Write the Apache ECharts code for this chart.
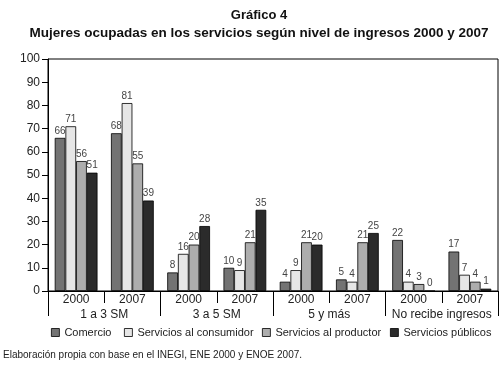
<!DOCTYPE html>
<html><head><meta charset="utf-8">
<script src="https://cdn.jsdelivr.net/npm/echarts@6/dist/echarts.min.js"></script>
<style>html,body{margin:0;padding:0;background:#fff}#c{width:504px;height:366px}</style>
</head><body><div id="c"></div>
<script>
const years = ['2000','2007','2000','2007','2000','2007','2000','2007'];
const groups = ['1 a 3 SM','3 a 5 SM','5 y más','No recibe ingresos'];
const seriesNames = ['Comercio','Servicios al consumidor','Servicios al productor','Servicios públicos'];
const comercio = [66,68,8,10,4,5,22,17];
const consumidor = [71,81,16,9,9,4,4,7];
const productor = [56,55,20,21,21,21,3,4];
const publicos = [51,39,28,35,20,25,0,1];
const yTicks = [0,10,20,30,40,50,60,70,80,90,100];
const colors = ['#737373','#e6e6e6','#adadad','#2b2b2b'];
const FONT = "'Liberation Sans Narrow','Liberation Sans',Arial,sans-serif";
const chart = echarts.init(document.getElementById('c'));
const vals = [comercio, consumidor, productor, publicos];
const legendX = [51, 124, 262, 390];
chart.setOption({
  animation:false,
  title:[
    {text:'Gráfico 4', left:254, textAlign:'center', top:4, textStyle:{fontFamily:'Liberation Sans, Arial, sans-serif', fontWeight:'bold', fontSize:13, color:'#111'}},
    {text:'Mujeres ocupadas en los servicios según nivel de ingresos 2000 y 2007', left:254, textAlign:'center', top:21, textStyle:{fontFamily:'Liberation Sans, Arial, sans-serif', fontWeight:'bold', fontSize:13.5, color:'#111'}},
    {text:'Elaboración propia con base en el INEGI, ENE 2000 y ENOE 2007.', left:3, top:350, padding:0, textStyle:{fontFamily:FONT, fontWeight:'normal', fontSize:10, color:'#222'}}
  ],
  legend: seriesNames.map((n,i)=>({
    data:[n], left:legendX[i], top:327, padding:0, itemWidth:8, itemHeight:8, icon:'rect',
    textStyle:{fontFamily:FONT, fontSize:11, color:'#222', padding:[0,0,0,0]},
    itemStyle:{borderColor:'#000', borderWidth:0.8}
  })),
  grid:{left:48, right:6, top:59, bottom:75, show:true, borderColor:'#000', borderWidth:1},
  xAxis:[
    {type:'category', data:years, position:'bottom',
     axisLine:{lineStyle:{color:'#000'}}, axisTick:{show:true, length:12, interval:0, lineStyle:{color:'#000'}},
     axisLabel:{fontFamily:FONT, fontSize:12, color:'#222', margin:3, interval:0}},
    {type:'category', data:groups, position:'bottom', offset:0,
     axisLine:{show:false}, axisTick:{show:true, length:25, interval:0, lineStyle:{color:'#000'}},
     axisLabel:{fontFamily:FONT, fontSize:12, color:'#222', margin:18, interval:0}}
  ],
  yAxis:{type:'value', min:0, max:100, interval:10,
    axisLine:{show:true, lineStyle:{color:'#000'}}, axisTick:{show:true, length:6, lineStyle:{color:'#000'}},
    splitLine:{show:false},
    axisLabel:{fontFamily:FONT, fontSize:12, color:'#222', margin:8,
      formatter:(v)=> yTicks.includes(v) ? String(v) : ''}},
  series: seriesNames.map((n,i)=>({
    name:n, type:'bar', xAxisIndex:0, data:vals[i], barGap:'0%', barCategoryGap:'24%',
    itemStyle:{color:colors[i], borderColor:'#000', borderWidth:0.8},
    label:{show:true, position:'top', distance:2, fontFamily:FONT, fontSize:10, color:'#444'}
  }))
});
</script></body></html>
